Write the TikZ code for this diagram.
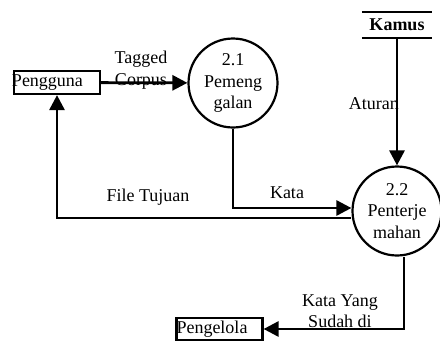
\documentclass[tikz,border=0pt]{standalone}
\usepackage{fontspec}
\setmainfont{Liberation Serif}
\usetikzlibrary{arrows.meta}

\begin{document}
\begin{tikzpicture}[x=1pt,y=-1pt,line width=2.2pt,
	font=\fontsize{18}{21.5}\selectfont,
	entitas/.style={draw,rectangle,inner sep=0pt,minimum height=23pt,text width=86pt,align=left},
	proses/.style={draw,circle,inner sep=0pt,minimum size=89pt,align=center},
	alir/.style={-{Triangle[length=15pt,width=15pt]},line width=2.8pt}]
	\useasboundingbox (0,0) rectangle (440,341);
	\node[entitas] (pengguna) at (57,82.5) {\hspace*{-2pt}Pengguna};
	\node[proses] (p21) at (233,83) {2.1\\Pemeng\\galan};
	\node[minimum width=68pt,minimum height=24pt,inner sep=0pt,font=\fontsize{18}{21.5}\selectfont\bfseries] (kamus) at (397,25) {Kamus};
	\node[proses] (p22) at (397,211) {2.2\\Penterje\\mahan};
	\node[entitas,minimum height=22pt] (pengelola) at (219.5,329) {Pengelola};
	
	\draw (kamus.north west) -- (kamus.north east);
	\draw (kamus.south west) -- (kamus.south east);
	
	\path [alir] (pengguna) edge (p21);
	\path [alir] (kamus.south) edge (p22.north);
	\draw [alir] (p21.south) |- ([yshift=3pt]p22.west);
	\draw [alir] ([yshift=-7pt]p22.west) -| (pengguna.south);
	\draw [alir] ([xshift=7pt]p22.south) |- (pengelola.east);
	
	\node[align=center] (lbltagged) at (141,70) {Tagged\\Corpus};
	\node[anchor=east,inner sep=0pt] (lblaturan) at (400,104) {Aturan};
	\node (lblkata) at (287,193) {Kata};
	\node (lblfile) at (148,197) {File Tujuan};
	\node[align=center] (lblsudah) at (340,311) {Kata Yang\\Sudah di};
\end{tikzpicture}
\end{document}
